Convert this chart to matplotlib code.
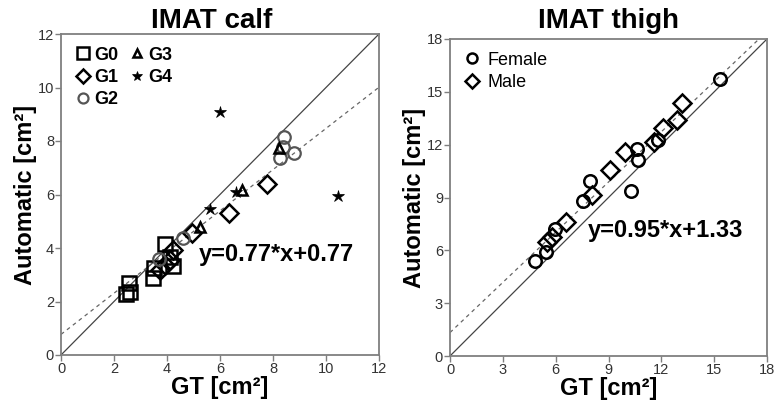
import matplotlib
matplotlib.use("Agg")
import matplotlib.pyplot as plt
import numpy as np

plt.rcParams['font.family'] = ['Liberation Sans', 'DejaVu Sans']

# ---- calf data ----
g0_x = [2.44, 2.60, 2.57, 3.48, 3.51, 3.91, 4.21, 4.11]
g0_y = [2.27, 2.37, 2.68, 2.87, 3.26, 4.14, 3.34, 3.68]
g1_x = [3.74, 3.92, 4.11, 4.24, 4.93, 6.34, 7.79]
g1_y = [3.18, 3.36, 3.57, 3.92, 4.57, 5.30, 6.39]
g2_x = [3.71, 4.62, 8.26, 8.43, 8.39, 8.81]
g2_y = [3.60, 4.36, 7.35, 8.14, 7.79, 7.56]
g3_x = [5.25, 6.82, 8.23]
g3_y = [4.77, 6.17, 7.73]
g4_x = [6.00, 5.62, 6.59, 10.47]
g4_y = [9.10, 5.46, 6.10, 5.94]
calf_fit = (0.77, 0.77)

# ---- thigh data ----
fem_x = [4.83, 5.46, 5.97, 7.54, 7.96, 10.27, 10.61, 10.65, 11.79, 15.31]
fem_y = [5.41, 5.92, 7.21, 8.82, 9.96, 9.39, 11.74, 11.13, 12.27, 15.73]
male_x = [5.53, 5.78, 6.59, 8.05, 9.06, 9.95, 11.56, 12.09, 12.89, 13.17]
male_y = [6.49, 6.77, 7.63, 9.14, 10.56, 11.60, 12.17, 12.93, 13.40, 14.35]
thigh_fit = (0.95, 1.33)

calf_ticks = [0, 2, 4, 6, 8, 10, 12]
thigh_ticks = [0, 3, 6, 9, 12, 15, 18]

W, H = 778, 409
fig = plt.figure(figsize=(W / 100, H / 100), dpi=100)
axL = fig.add_axes([61 / W, (H - 355) / H, 318 / W, 321 / H])
axR = fig.add_axes([450 / W, (H - 356) / H, 317 / W, 317 / H])

spine_col = '#7f7f7f'
for ax, ticks, lim in [(axL, calf_ticks, 12), (axR, thigh_ticks, 18)]:
    ax.set_xlim(0, lim)
    ax.set_ylim(0, lim)
    ax.set_xticks(ticks)
    ax.set_yticks(ticks)
    for s in ax.spines.values():
        s.set_color(spine_col)
        s.set_linewidth(1.3)
    ax.tick_params(direction='out', length=4, width=1, color=spine_col,
                   labelsize=10.5, labelcolor='#333333', pad=1)
    ax.plot([0, lim], [0, lim], color='#444444', lw=0.9, zorder=1)
    ax.set_xlabel('GT [cm²]', fontsize=17, fontweight='bold', labelpad=0)
    ax.set_ylabel('Automatic [cm²]', fontsize=17, fontweight='bold', labelpad=0.5)

# calf
xx = np.array([0, 12])
axL.plot(xx, calf_fit[0] * xx + calf_fit[1], color='#666666', lw=0.9,
         ls=(0, (3, 3)), zorder=1)
axL.plot(g0_x, g0_y, 's', ms=10, mfc='none', mec='black', mew=1.8, label='G0', zorder=3)
axL.plot(g1_x, g1_y, 'D', ms=9, mfc='none', mec='black', mew=1.8, label='G1', zorder=3)
axL.plot(g2_x, g2_y, 'o', ms=9, mfc='none', mec='#555555', mew=1.6, label='G2', zorder=3)
axL.plot(g3_x, g3_y, '^', ms=7, mfc='none', mec='black', mew=1.8, label='G3', zorder=3)
axL.plot(g4_x, g4_y, '*', ms=9, mfc='black', mec='black', mew=0.5, label='G4', zorder=3)
axL.text(8.13, 3.74, 'y=%.2f*x+%.2f' % calf_fit, fontsize=17, fontweight='bold',
         ha='center', va='center')
fig.text(212 / W, 1 - 21 / H, 'IMAT calf', fontsize=20, fontweight='bold',
         ha='center', va='center')
axL.legend(loc='upper left', ncol=2, frameon=False,
           prop={'weight': 'bold', 'size': 13}, handletextpad=0.15,
           columnspacing=0.5, labelspacing=0.3, markerscale=0.8,
           handlelength=1.0, borderaxespad=0.3)

# thigh
xx = np.array([0, 18])
axR.plot(xx, thigh_fit[0] * xx + thigh_fit[1], color='#666666', lw=0.9,
         ls=(0, (3, 3)), zorder=1)
axR.plot(fem_x, fem_y, 'o', ms=9, mfc='none', mec='black', mew=1.8, label='Female', zorder=3)
axR.plot(male_x, male_y, 'D', ms=9, mfc='none', mec='black', mew=1.8, label='Male', zorder=3)
axR.text(12.26, 7.15, 'y=%.2f*x+%.2f' % thigh_fit, fontsize=17, fontweight='bold',
         ha='center', va='center')
fig.text(608 / W, 1 - 21 / H, 'IMAT thigh', fontsize=20, fontweight='bold',
         ha='center', va='center')
axR.legend(loc='upper left', frameon=False, prop={'size': 13}, handletextpad=0.35,
           labelspacing=0.3, markerscale=0.8, handlelength=1.0, borderaxespad=0.3)

fig.savefig('out.png', dpi=100)
